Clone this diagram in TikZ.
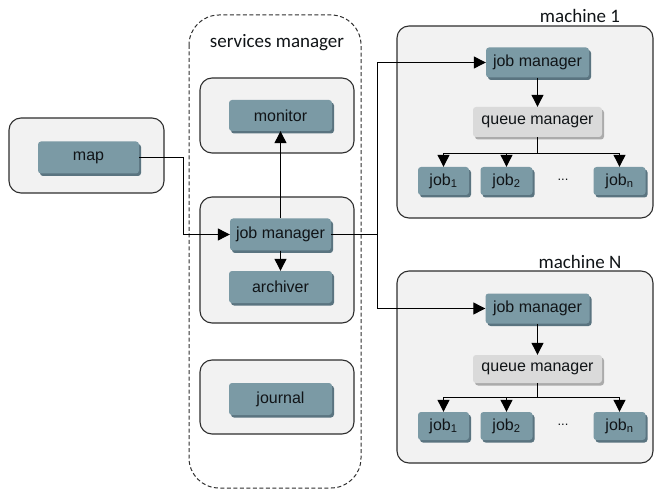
\documentclass[tikz,border=0pt]{standalone}
\usepackage{fontspec}
\setmainfont{Liberation Sans}
\newfontfamily\calfont{Carlito}
\usetikzlibrary{shadows,arrows.meta}
\definecolor{outerfill}{HTML}{F2F2F2}
\definecolor{outerdraw}{HTML}{2E2E2E}
\definecolor{innerfill}{HTML}{7B9AA5}
\definecolor{innershadow}{HTML}{5A7480}
\definecolor{qfill}{HTML}{DADADA}
\definecolor{qshadow}{HTML}{ABABAB}
\definecolor{txt}{HTML}{101417}
\begin{document}
\begin{tikzpicture}[x=1pt,y=-1pt,
  outerbox/.style={draw=outerdraw,fill=outerfill,line width=1.1pt,rounded corners=12pt},
  svcbox/.style={draw=outerdraw,dash pattern=on 4pt off 2.5pt,line width=1pt,rounded corners=30pt},
  inner/.style={fill=innerfill,rounded corners=3pt,text=txt,font=\fontsize{16}{18}\selectfont,
    inner sep=0pt,drop shadow={shadow xshift=2pt,shadow yshift=-2.5pt,fill=innershadow,opacity=1}},
  qbox/.style={fill=qfill,rounded corners=3pt,text=txt,font=\fontsize{16}{18}\selectfont,
    inner sep=0pt,drop shadow={shadow xshift=2pt,shadow yshift=-2.5pt,fill=qshadow,opacity=1}},
  title/.style={font=\calfont\fontsize{19}{22}\selectfont,text=txt,inner sep=0pt},
  arr/.style={line width=1.2pt,-{Triangle[length=12pt,width=12pt]}},
  ln/.style={line width=1.2pt}]
\useasboundingbox (0,0) rectangle (656,489);
% outer containers
\draw[svcbox] (189,15) rectangle (361,488);
\draw[outerbox] (9,118) rectangle (164,193);
\draw[outerbox] (200,78) rectangle (354,153);
\draw[outerbox] (200,197) rectangle (354,323);
\draw[outerbox] (200,360) rectangle (354,434);
\draw[outerbox] (397,26) rectangle (653,218);
\draw[outerbox] (397,271) rectangle (653,463);
% titles
\node[title] (tsvc) at (277,43) {services manager};
\node[title] (tm1) at (580,16) {machine 1};
\node[title] (tmN) at (580,262) {machine N};
% services side
\node[inner,minimum width=101pt,minimum height=32pt] (map) at (88.5,157.5) {map};
\node[inner,minimum width=103pt,minimum height=31pt] (monitor) at (280.5,115.5) {monitor};
\node[inner,minimum width=101pt,minimum height=32pt] (jm0) at (280.5,234.5) {job manager};
\node[inner,minimum width=103pt,minimum height=32pt] (archiver) at (280.5,287) {archiver};
\node[inner,minimum width=103pt,minimum height=32pt] (journal) at (280.5,399) {journal};
% machine 1
\node[inner,minimum width=103pt,minimum height=30pt] (m1jm) at (537.5,62.5) {job manager};
\node[qbox,minimum width=129pt,minimum height=30pt] (m1qm) at (537.5,122) {queue manager};
\node[inner,minimum width=51pt,minimum height=28pt] (j11) at (443.5,181) {job\textsubscript{1}};
\node[inner,minimum width=52pt,minimum height=28pt] (j12) at (506.5,181) {job\textsubscript{2}};
\node[inner,minimum width=52pt,minimum height=28pt] (j1n) at (619.5,181) {job\textsubscript{n}};
\node[text=txt,font=\fontsize{13}{15}\selectfont] (d1) at (563,180) {...};
% machine N
\node[inner,minimum width=104pt,minimum height=30pt] (mNjm) at (537.5,308.5) {job manager};
\node[qbox,minimum width=129pt,minimum height=28pt] (mNqm) at (537.5,369) {queue manager};
\node[inner,minimum width=51pt,minimum height=28pt] (jN1) at (443.5,426) {job\textsubscript{1}};
\node[inner,minimum width=52pt,minimum height=28pt] (jN2) at (506.5,426) {job\textsubscript{2}};
\node[inner,minimum width=52pt,minimum height=28pt] (jNn) at (619.5,426) {job\textsubscript{n}};
\node[text=txt,font=\fontsize{13}{15}\selectfont] (dN) at (563,425) {...};
% connectors
\coordinate (c1) at (183.5,157.5);
\draw[arr] (map.east) -- (c1) |- (jm0.west);
\draw[arr] (jm0.north) -- (monitor.south);
\draw[arr] (jm0.south) -- (archiver.north);
\coordinate (sp) at (377.5,234.5);
\draw[ln] (jm0.east) -- (sp);
\draw[arr] (sp) |- (m1jm.west);
\draw[arr] (sp) |- (mNjm.west);
\draw[arr] (m1jm.south) -- (m1qm.north);
\draw[arr] (mNjm.south) -- (mNqm.north);
\coordinate (b1) at (537.5,153.5);
\coordinate (bN) at (537.5,397.5);
\draw[ln] (m1qm.south) -- (b1);
\draw[arr] (b1) -| (j11.north);
\draw[arr] (b1) -| (j12.north);
\draw[arr] (b1) -| (j1n.north);
\draw[ln] (mNqm.south) -- (bN);
\draw[arr] (bN) -| (jN1.north);
\draw[arr] (bN) -| (jN2.north);
\draw[arr] (bN) -| (jNn.north);
\end{tikzpicture}
\end{document}
